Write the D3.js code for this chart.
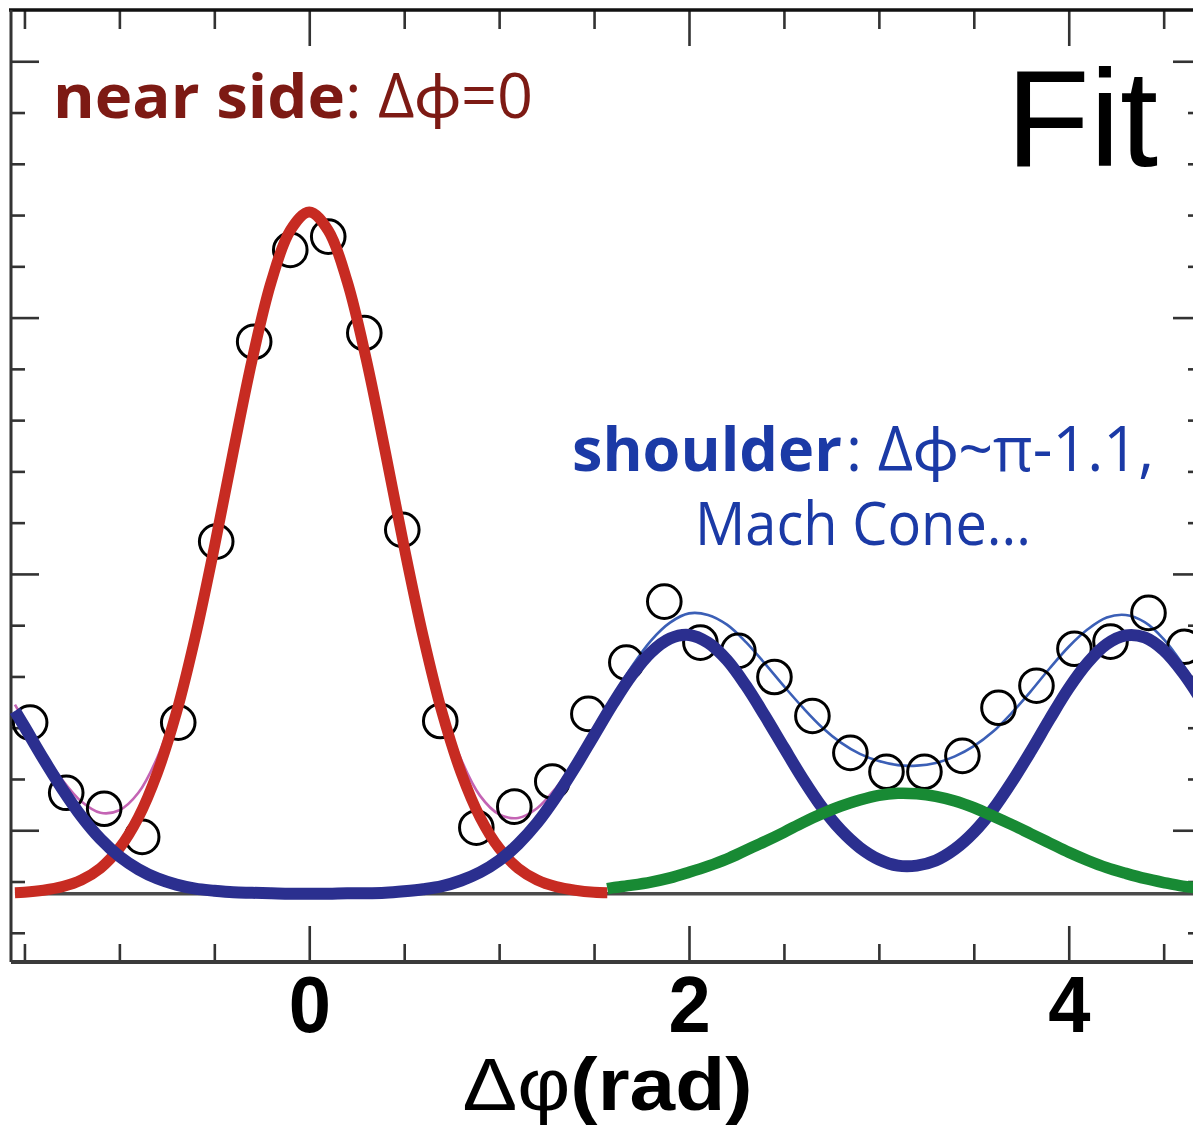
<!DOCTYPE html>
<html><head><meta charset="utf-8">
<script src="https://cdn.jsdelivr.net/npm/d3@7"></script>
<style>html,body{margin:0;padding:0;background:#fff;overflow:hidden}</style>
</head><body><svg id="chart" width="1193" height="1126"></svg>
<script>
// ---- data (y in arbitrary units, one unit per minor y tick) ----
const dataX = [-1.47,-1.28,-1.08,-0.88,-0.69,-0.49,-0.29,-0.10,0.10,0.29,0.49,0.69,0.88,1.08,1.28,1.47,
               1.67,1.87,2.06,2.26,2.45,2.65,2.85,3.04,3.24,3.44,3.63,3.83,4.03,4.22,4.42,4.61];
const dataY = [4.10,2.73,2.42,1.87,4.10,7.63,11.53,13.32,13.58,11.70,7.86,4.13,2.05,2.46,2.95,4.27,
               5.27,6.46,5.66,5.50,4.99,4.23,3.51,3.14,3.14,3.45,4.39,4.82,5.54,5.68,6.24,5.58];

const nearX = [-1.55,-1.5,-1.4,-1.3,-1.2,-1.1,-1.0,-0.9,-0.8,-0.7,-0.6,-0.5,-0.4,-0.3,-0.2,-0.1,0,
               0.1,0.2,0.3,0.4,0.5,0.6,0.7,0.8,0.9,1.0,1.1,1.2,1.3,1.4,1.5,1.57];
const nearSideFit = [0.78,0.79,0.83,0.90,1.03,1.26,1.65,2.25,3.12,4.29,5.78,7.52,9.39,11.19,12.70,13.70,14.06,
               13.70,12.70,11.19,9.39,7.52,5.78,4.29,3.12,2.25,1.65,1.26,1.03,0.90,0.83,0.79,0.78];
const nearTotalFit = [4.45,4.13,3.51,2.98,2.56,2.34,2.39,2.73,3.42,4.47,5.88,7.58,9.42,11.21,12.71,13.70,14.06,
               13.70,12.71,11.20,9.41,7.57,5.87,4.44,3.38,2.67,2.31,2.24,2.43,2.83,3.35,3.96,4.41];

const fullX = [-1.55,-1.5,-1.4,-1.3,-1.2,-1.1,-1.0,-0.9,-0.8,-0.7,-0.6,-0.5,-0.4,-0.3,-0.2,-0.1,0,
               0.1,0.2,0.3,0.4,0.5,0.6,0.7,0.8,0.9,1.0,1.1,1.2,1.3,1.4,1.5,1.6,1.7,1.8,1.9,2.0,
               2.1,2.2,2.3,2.4,2.5,2.6,2.7,2.8,2.9,3.0,3.1,3.2,3.3,3.4,3.5,3.6,3.7,3.8,3.9,4.0,
               4.1,4.2,4.3,4.4,4.5,4.6,4.7];
const shoulderFit = [4.33,4.02,3.39,2.80,2.27,1.83,1.49,1.24,1.06,0.94,0.86,0.82,0.79,0.78,0.77,0.76,0.76,
               0.76,0.77,0.77,0.78,0.81,0.85,0.91,1.02,1.18,1.41,1.73,2.14,2.65,3.23,3.85,4.47,5.03,5.47,5.74,5.81,
               5.66,5.32,4.82,4.23,3.61,3.00,2.45,2.00,1.66,1.43,1.31,1.31,1.41,1.63,1.96,2.40,2.94,3.54,4.17,4.77,
               5.27,5.63,5.80,5.76,5.51,5.08,4.53];

const farX = [1.57,1.6,1.7,1.8,1.9,2.0,2.1,2.2,2.3,2.4,2.5,2.6,2.7,2.8,2.9,3.0,3.1,3.2,3.3,3.4,3.5,
              3.6,3.7,3.8,3.9,4.0,4.1,4.2,4.3,4.4,4.5,4.6,4.7];
const awaySideFit = [0.86,0.88,0.93,0.99,1.07,1.18,1.30,1.44,1.61,1.78,1.96,2.15,2.32,2.47,2.59,2.68,2.72,
              2.71,2.66,2.57,2.44,2.28,2.11,1.93,1.75,1.57,1.41,1.27,1.16,1.06,0.98,0.91,0.87];
const farTotalFit = [4.41,4.60,5.20,5.70,6.05,6.23,6.20,6.01,5.67,5.25,4.81,4.39,4.01,3.71,3.49,3.35,3.27,
              3.26,3.31,3.44,3.64,3.92,4.29,4.71,5.16,5.58,5.92,6.15,6.20,6.06,5.73,5.24,4.64];

const pedestal = 0.76;
const xMajorTicks = [0, 2, 4];
const xMinorTicks = [-1.5,-1,-0.5,0.5,1,1.5,2.5,3,3.5,4.5];
const yMajorTicks = [2, 7, 12, 17];
const yMinorTicks = [0,1,3,4,5,6,8,9,10,11,13,14,15,16];
const xDomain = [-Math.PI/2, 3*Math.PI/2];
const yDomain = [-0.57, 18.0];

// ---- layout ----
const pLeft = 11, pRight = 1204, pTop = 10, pBottom = 962;
const svg = d3.select('#chart');
const x = d3.scaleLinear().domain(xDomain).range([pLeft, pRight]);
const y = d3.scaleLinear().domain(yDomain).range([pBottom, pTop]);

const tickStyle = g => { g.select('.domain').remove(); g.selectAll('.tick line').attr('stroke', '#333').attr('stroke-width', 2.6); };

// bottom
svg.append('g').attr('transform', `translate(0,${pBottom})`)
  .call(d3.axisBottom(x).tickValues(xMinorTicks).tickSize(-18).tickFormat('')).call(tickStyle);
svg.append('g').attr('transform', `translate(0,${pBottom})`)
  .call(d3.axisBottom(x).tickValues(xMajorTicks).tickSize(-36).tickPadding(14).tickFormat(d3.format('d')))
  .call(tickStyle)
  .call(g => g.selectAll('text').attr('font-family', '"Liberation Sans", Arial, sans-serif')
      .attr('font-weight', 'bold').attr('font-size', 73).attr('fill', '#000')
      .attr('transform', 'scale(1.04,1.08)').attr('transform-origin', '0 14'));
// top
svg.append('g').attr('transform', `translate(0,${pTop})`)
  .call(d3.axisTop(x).tickValues(xMinorTicks).tickSize(-19).tickFormat('')).call(tickStyle);
svg.append('g').attr('transform', `translate(0,${pTop})`)
  .call(d3.axisTop(x).tickValues(xMajorTicks).tickSize(-36).tickFormat('')).call(tickStyle);
// left
svg.append('g').attr('transform', `translate(${pLeft},0)`)
  .call(d3.axisLeft(y).tickValues(yMinorTicks).tickSize(-14).tickFormat('')).call(tickStyle);
svg.append('g').attr('transform', `translate(${pLeft},0)`)
  .call(d3.axisLeft(y).tickValues(yMajorTicks).tickSize(-28).tickFormat('')).call(tickStyle);
// right
svg.append('g').attr('transform', `translate(${pRight},0)`)
  .call(d3.axisRight(y).tickValues(yMinorTicks).tickSize(-16).tickFormat('')).call(tickStyle);
svg.append('g').attr('transform', `translate(${pRight},0)`)
  .call(d3.axisRight(y).tickValues(yMajorTicks).tickSize(-31).tickFormat('')).call(tickStyle);

// frame
svg.append('line').attr('x1', pLeft - 2).attr('x2', pRight).attr('y1', pTop).attr('y2', pTop)
  .attr('stroke', '#111').attr('stroke-width', 3.5);
svg.append('line').attr('x1', pLeft).attr('x2', pLeft).attr('y1', pTop).attr('y2', pBottom)
  .attr('stroke', '#333').attr('stroke-width', 3);
svg.append('line').attr('x1', pLeft).attr('x2', pRight).attr('y1', pBottom).attr('y2', pBottom)
  .attr('stroke', '#3a3a3a').attr('stroke-width', 4);

// pedestal line
svg.append('line').attr('x1', x(nearX[0])).attr('x2', pRight).attr('y1', y(pedestal)).attr('y2', y(pedestal))
  .attr('stroke', '#4a4a4a').attr('stroke-width', 3.5);

const line = d3.line().x(d => x(d[0])).y(d => y(d[1])).curve(d3.curveCatmullRom.alpha(0.5));
const draw = (xs, ys, color, w) => svg.append('path').datum(xs.map((d, i) => [d, ys[i]]))
  .attr('d', line).attr('fill', 'none').attr('stroke', color).attr('stroke-width', w)
  .attr('stroke-linecap', 'butt').attr('stroke-linejoin', 'round');

// thin total fits (underneath the component curves)
draw(nearX, nearTotalFit, '#c464b4', 2.6);
draw(farX, farTotalFit, '#3b5fb6', 2.6);

// data circles
svg.append('g').selectAll('circle').data(dataX.map((d, i) => [d, dataY[i]])).join('circle')
  .attr('cx', d => x(d[0])).attr('cy', d => y(d[1])).attr('r', 16.8)
  .attr('fill', 'none').attr('stroke', '#000').attr('stroke-width', 3);

// component fits
draw(nearX, nearSideFit, '#c72b22', 11);
draw(fullX, shoulderFit, '#2b2f8f', 12);
draw(farX, awaySideFit, '#188a34', 11.5);

// texts
const hum = '"Open Sans", Lato, "Noto Sans", sans-serif';
svg.append('text').attr('x', 53).attr('y', 118).attr('font-family', hum).attr('font-weight', 'bold')
  .attr('font-size', 60).attr('fill', '#7d1a14').attr('textLength', 292).attr('lengthAdjust', 'spacingAndGlyphs')
  .text('near side');
svg.append('text').attr('x', 345).attr('y', 118).attr('font-family', hum)
  .attr('font-size', 62).attr('fill', '#7d1a14').attr('textLength', 188).attr('lengthAdjust', 'spacingAndGlyphs')
  .text(': Δϕ=0');

svg.append('text').attr('x', 1006).attr('y', 166).attr('font-family', '"Liberation Sans", Arial, sans-serif')
  .attr('font-size', 137).attr('fill', '#000').text('Fit');

svg.append('text').attr('x', 572).attr('y', 471).attr('font-family', hum).attr('font-weight', 'bold')
  .attr('font-size', 60).attr('fill', '#1b3aa6').attr('textLength', 270).attr('lengthAdjust', 'spacingAndGlyphs')
  .text('shoulder');
svg.append('text').attr('x', 846).attr('y', 471).attr('font-family', hum)
  .attr('font-size', 62).attr('fill', '#1b3aa6').attr('textLength', 308).attr('lengthAdjust', 'spacingAndGlyphs')
  .text(': Δϕ~π-1.1,');
svg.append('text').attr('x', 695).attr('y', 545).attr('font-family', hum)
  .attr('font-size', 60).attr('fill', '#1b3aa6').attr('textLength', 336).attr('lengthAdjust', 'spacingAndGlyphs')
  .text('Mach Cone...');

const xl = svg.append('text').attr('x', x(-Math.PI/2) + (x(3*Math.PI/2) - x(-Math.PI/2)) / 2 - 145).attr('y', 1109.5)
  .attr('font-family', '"Liberation Sans", Arial, sans-serif').attr('font-size', 75).attr('fill', '#000')
  .attr('textLength', 290).attr('lengthAdjust', 'spacingAndGlyphs');
xl.append('tspan').text('Δφ');
xl.append('tspan').attr('font-weight', 'bold').text('(rad)');
</script></body></html>
